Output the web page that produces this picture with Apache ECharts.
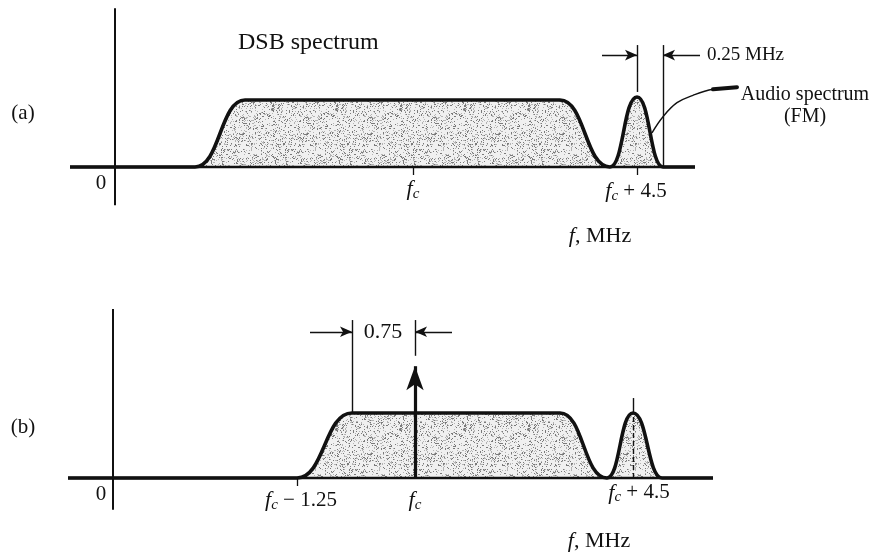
<!DOCTYPE html>
<html><head><meta charset="utf-8">
<script src="https://cdn.jsdelivr.net/npm/echarts@6/dist/echarts.min.js"></script>
<style>html,body{margin:0;padding:0;background:#fff}#c{width:886px;height:552px}</style>
</head><body><div id="c"></div>
<script>
// ---- Data (x in figure units, roughly MHz; y in relative amplitude) ----
// Panel (a): DSB spectrum + FM audio spectrum
const aX = [-0.9, 1.6, 2.6, 8.9, 9.9, 10.44, 10.96, 11.6];
const aY = [0, 0, 1.0, 1.0, 0, 1.045, 0, 0];
// Panel (b): vestigial sideband spectrum + carrier + audio
const bX = [-0.9, 3.68, 4.78, 8.94, 9.88, 10.4, 10.98, 12.0];
const bY = [0, 0, 1.0, 1.0, 0, 1.0, 0, 0];
const carrierX = 6.04, carrierY = 1.72;
// Tick positions and labels
const aTickVals = [0, 5.96, 10.44];
const aTickLabels = ['0', 'fc', 'fc + 4.5'];
const bTickVals = [0, 3.68, 6.04, 10.4];
const bTickLabels = ['0', 'fc − 1.25', 'fc', 'fc + 4.5'];
// Leader curve to "Audio spectrum (FM)"
const leaderX = [10.74, 10.96, 11.24, 11.56, 11.96, 12.44];
const leaderY = [0.51, 0.75, 0.96, 1.07, 1.16, 1.19];

const FONT = 'Liberation Serif';
const INK = '#111';

// stipple pattern for the spectrum fill (deterministic)
function makePattern() {
  const c = document.createElement('canvas');
  c.width = 64; c.height = 64;
  const g = c.getContext('2d');
  g.fillStyle = '#f0f0f0'; g.fillRect(0, 0, 64, 64);
  for (let y = 0; y < 64; y++) {
    for (let x = 0; x < 64; x++) {
      const h = ((x * 374761393 + y * 668265263) ^ (x * y * 2246822519)) >>> 0;
      const m = (h ^ (h >>> 13)) * 1274126177 >>> 0;
      const r = (m >>> 8) % 100;
      if (r < 11) { g.fillStyle = '#7a7a7a'; g.fillRect(x, y, 1, 1); }
      else if (r < 21) { g.fillStyle = '#b4b4b4'; g.fillRect(x, y, 1, 1); }
    }
  }
  return c;
}
const pattern = makePattern();

const fcRich = {
  f: { fontFamily: FONT, fontStyle: 'italic', fontSize: 22, color: INK },
  c: { fontFamily: FONT, fontStyle: 'italic', fontSize: 15, color: INK, padding: [9, 0, 0, 0] },
  n: { fontFamily: FONT, fontSize: 21, color: INK },
  i: { fontFamily: FONT, fontStyle: 'italic', fontSize: 22, color: INK }
};
function fcText(s) {
  if (s === '0') return '0';
  return '{f|f}{c|c}' + (s.length > 2 ? '{n|' + s.slice(2) + '}' : '');
}
function pairs(xs, ys) { return xs.map((x, i) => [x, ys[i]]); }
function seg(x1, y1, x2, y2, extra) {
  return [Object.assign({ coord: [x1, y1] }, extra || {}), { coord: [x2, y2] }];
}
function txt(x, y, text, style) {
  return {
    coord: [x, y], symbol: 'circle', symbolSize: 0,
    label: Object.assign({ show: true, position: 'inside', formatter: text,
      fontFamily: FONT, fontSize: 21, color: INK, rich: fcRich }, style || {})
  };
}
// tick label placement (label centre offsets in data units below the baseline)
const aLabelPos = [[-0.28, -0.25], [5.96, -0.33], [10.42, -0.36]];
const bLabelPos = [[-0.24, -0.25], [3.76, -0.34], [6.04, -0.34], [10.52, -0.23]];

const solid = { color: INK, width: 1.4, type: 'solid' };
const dashed = { color: INK, width: 1.4, type: [5, 3] };

const chart = echarts.init(document.getElementById('c'), null, { renderer: 'canvas' });
const option = {
  backgroundColor: '#fff',
  animation: false,
  grid: [
    { left: 0, right: 0, top: 0, height: 260 },
    { left: 0, right: 0, top: 270, height: 282 }
  ],
  xAxis: [0, 1].map(k => ({
    type: 'value', gridIndex: k,
    min: k === 0 ? -2.3 : -2.26, max: k === 0 ? 15.42 : 15.46,
    axisLine: { show: false, onZero: true },
    axisTick: { show: true, length: 8, lineStyle: { color: INK, width: 1.3 },
      customValues: k === 0 ? aTickVals.slice(1) : bTickVals.slice(1, 2) },
    axisLabel: { show: false },
    splitLine: { show: false }
  })),
  yAxis: [0, 1].map(k => ({
    type: 'value', gridIndex: k,
    min: k === 0 ? -93 / 67 : -74 / 65, max: k === 0 ? 167 / 67 : 208 / 65,
    axisLine: { show: false }, axisTick: { show: false }, axisLabel: { show: false }, splitLine: { show: false }
  })),
  series: [
    // Panel (a) spectrum
    {
      type: 'line', xAxisIndex: 0, yAxisIndex: 0, data: pairs(aX, aY),
      smooth: 0.5, smoothMonotone: 'x', symbol: 'none',
      lineStyle: { color: INK, width: 3.6 },
      areaStyle: { color: { image: pattern, repeat: 'repeat' }, opacity: 1 },
      z: 3
    },
    // Panel (a) axes + annotation lines + texts
    {
      type: 'line', xAxisIndex: 0, yAxisIndex: 0, data: [[aX[0], 0], [aX[aX.length - 1], 0]],
      symbol: 'none', lineStyle: { color: INK, width: 2.4 }, z: 4,
      markLine: {
        silent: true, symbol: ['none', 'none'], label: { show: false },
        lineStyle: solid,
        data: [
          seg(0, -0.57, 0, 2.37, { lineStyle: { color: INK, width: 2 } }),
          seg(10.44, 1.12, 10.44, 1.82),
          seg(10.96, 0, 10.96, 1.82)
        ]
      },
      markPoint: {
        silent: true,
        data: aTickLabels.map((s, i) => txt(aLabelPos[i][0], aLabelPos[i][1], fcText(s))).concat([
          txt(2.46, 1.85, 'DSB spectrum', { align: 'left', fontSize: 24 }),
          txt(11.84, 1.67, '0.25 MHz', { align: 'left', fontSize: 19 }),
          txt(13.8, 0.91, 'Audio spectrum\n(FM)', { align: 'center', fontSize: 20, lineHeight: 22 }),
          txt(9.7, -1.04, '{i|f}, MHz', { fontSize: 22 }),
          txt(-1.84, 0.8, '(a)', { fontSize: 21 })
        ])
      }
    },
    // Panel (a) annotations: arrows
    {
      type: 'line', xAxisIndex: 0, yAxisIndex: 0, data: [],
      markLine: {
        silent: true, symbol: ['none', 'arrow'], symbolSize: [8, 12], label: { show: false },
        lineStyle: solid,
        data: [
          seg(9.74, 1.67, 10.44, 1.67),
          seg(11.7, 1.67, 10.96, 1.67)
        ]
      }
    },
    // Leader curve
    {
      type: 'line', xAxisIndex: 0, yAxisIndex: 0, data: pairs(leaderX, leaderY),
      smooth: 0.4, symbol: 'none', lineStyle: { color: INK, width: 1.4 }, z: 4
    },
    {
      type: 'line', xAxisIndex: 0, yAxisIndex: 0, data: pairs(leaderX.slice(4), leaderY.slice(4)),
      symbol: 'none', lineStyle: { color: INK, width: 4, cap: 'round' }, z: 4
    },
    // Panel (b) spectrum
    {
      type: 'line', xAxisIndex: 1, yAxisIndex: 1, data: pairs(bX, bY),
      smooth: 0.5, smoothMonotone: 'x', symbol: 'none',
      lineStyle: { color: INK, width: 3.6 },
      areaStyle: { color: { image: pattern, repeat: 'repeat' }, opacity: 1 },
      z: 3
    },
    // Panel (b) axes + lines + texts
    {
      type: 'line', xAxisIndex: 1, yAxisIndex: 1, data: [[bX[0], 0], [bX[bX.length - 1], 0]],
      symbol: 'none', lineStyle: { color: INK, width: 2.4 }, z: 4,
      markLine: {
        silent: true, symbol: ['none', 'none'], label: { show: false },
        lineStyle: solid,
        data: [
          seg(0, -0.49, 0, 2.6, { lineStyle: { color: INK, width: 2 } }),
          seg(4.78, 1.0, 4.78, 2.43),
          seg(6.04, 1.88, 6.04, 2.43),
          seg(10.4, 1.0, 10.4, 1.23),
          seg(10.4, 0, 10.4, 1.0, { lineStyle: dashed })
        ]
      },
      markPoint: {
        silent: true,
        data: bTickLabels.map((s, i) => txt(bLabelPos[i][0], bLabelPos[i][1], fcText(s))).concat([
          txt(5.4, 2.25, '0.75', { fontSize: 22 }),
          txt(9.72, -0.97, '{i|f}, MHz', { fontSize: 22 }),
          txt(-1.8, 0.77, '(b)', { fontSize: 21 })
        ])
      }
    },
    // Panel (b) arrows
    {
      type: 'line', xAxisIndex: 1, yAxisIndex: 1, data: [],
      markLine: {
        silent: true, symbol: ['none', 'arrow'], symbolSize: [8, 12], label: { show: false },
        lineStyle: solid,
        data: [
          seg(3.94, 2.25, 4.78, 2.25),
          seg(6.78, 2.25, 6.04, 2.25)
        ]
      }
    },
    // Carrier
    {
      type: 'line', xAxisIndex: 1, yAxisIndex: 1, data: [], z: 5,
      markLine: {
        silent: true, symbol: ['none', 'arrow'], symbolSize: [13, 24], label: { show: false },
        lineStyle: { color: INK, width: 3.2, type: 'solid' },
        data: [ seg(carrierX, 0, carrierX, carrierY) ]
      }
    }
  ]
};
chart.setOption(option);
</script>
</body></html>
